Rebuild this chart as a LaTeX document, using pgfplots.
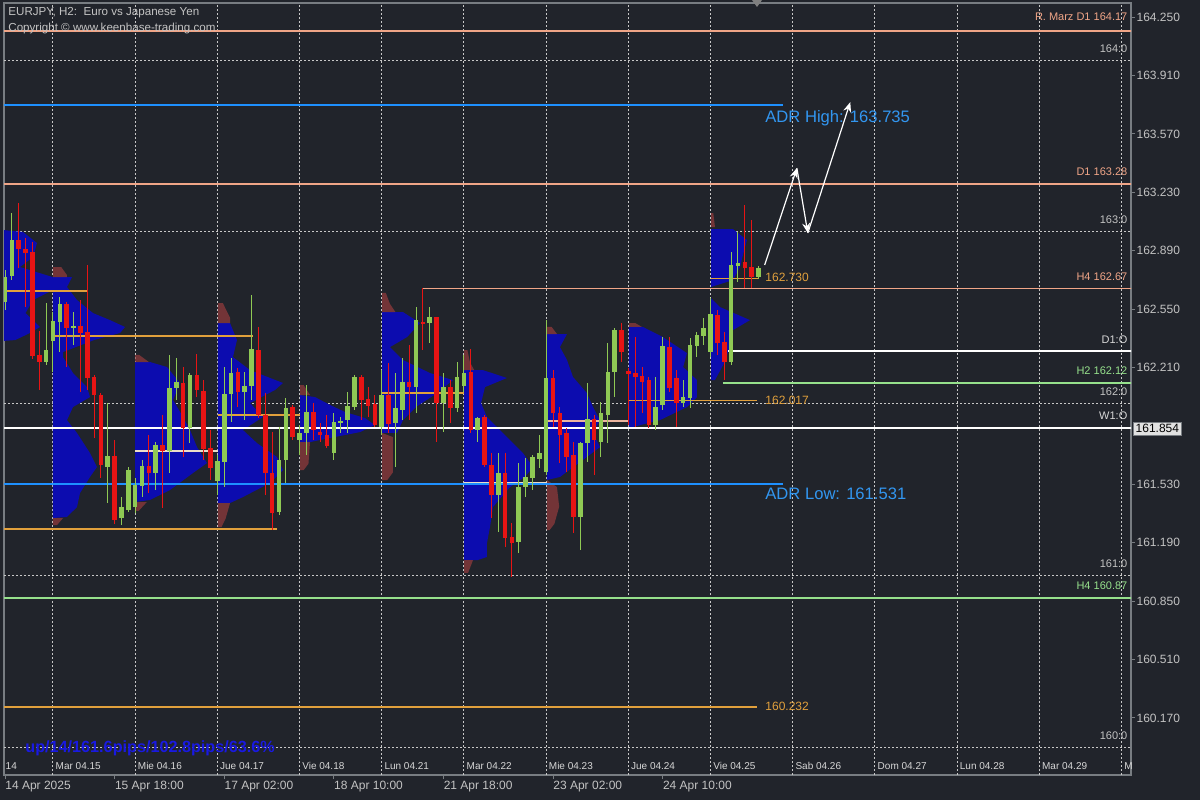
\documentclass[border=0pt]{standalone}
\usepackage{fontspec}
\setmainfont{Liberation Sans}
\usepackage{pgfplots}
\pgfplotsset{compat=1.18}
\usepackage{pgfplotstable}
\usetikzlibrary{arrows.meta}

\definecolor{bg}{RGB}{33,36,43}
\definecolor{gridc}{RGB}{200,200,200}
\definecolor{axisgrey}{RGB}{120,125,130}
\definecolor{ticktext}{RGB}{195,195,195}
\definecolor{salmon}{RGB}{240,165,135}
\definecolor{greenl}{RGB}{150,225,140}
\definecolor{adrblue}{RGB}{30,144,255}
\definecolor{adrtext}{RGB}{50,150,240}
\definecolor{pocor}{RGB}{225,160,60}
\definecolor{bullc}{RGB}{143,201,84}
\definecolor{bearc}{RGB}{232,20,20}
\definecolor{profblue}{RGB}{12,12,175}
\definecolor{profred}{RGB}{160,62,62}
\definecolor{daytext}{RGB}{215,215,215}
\definecolor{pocyel}{RGB}{235,220,200}
\definecolor{pocpink}{RGB}{235,180,160}
\definecolor{upblue}{RGB}{25,25,225}

\pgfplotstableread{
i o h l c
0 162.591 162.777 162.545 162.736
1 162.742 163.109 162.719 162.952
6 162.242 162.585 162.225 162.312
7 162.364 162.533 162.184 162.481
8 162.475 162.620 162.300 162.579
10 162.440 162.533 162.341 162.451
15 161.631 162.003 161.421 161.695
17 161.334 161.456 161.293 161.398
18 161.380 161.631 161.369 161.613
19 161.398 161.567 161.363 161.526
20 161.520 161.672 161.456 161.637
22 161.596 161.776 161.497 161.759
24 161.724 162.283 161.596 162.091
25 162.091 162.265 162.021 162.126
27 161.858 162.178 161.770 162.166
31 161.549 161.701 161.468 161.666
32 161.660 162.213 161.514 162.056
33 162.056 162.265 161.893 162.178
35 162.067 162.184 161.904 162.102
36 162.102 162.632 162.021 162.318
40 161.369 161.864 161.351 161.672
41 161.672 162.032 161.538 161.974
43 161.788 161.875 161.701 161.829
44 161.829 162.108 161.701 161.951
48 161.712 161.945 161.672 161.893
49 161.887 161.922 161.829 161.899
50 161.904 162.067 161.829 161.986
51 161.980 162.166 161.963 162.155
55 161.864 162.195 161.817 162.050
57 161.887 162.178 161.631 161.974
58 161.963 162.265 161.904 162.126
60 162.096 162.562 161.945 162.486
62 162.469 162.562 162.352 162.504
64 162.003 162.178 161.834 162.096
66 161.974 162.242 161.951 162.155
67 162.102 162.283 162.067 162.178
69 161.846 161.922 161.776 161.916
72 161.468 161.712 161.252 161.596
75 161.194 161.654 161.130 161.514
76 161.514 161.683 161.456 161.573
77 161.567 161.701 161.497 161.689
78 161.677 161.817 161.625 161.712
79 161.602 162.486 161.584 162.149
84 161.340 161.776 161.147 161.770
85 161.770 162.120 161.660 161.910
87 161.776 162.009 161.689 161.945
88 161.933 162.352 161.770 162.184
89 162.184 162.440 162.038 162.428
95 161.875 162.155 161.846 161.980
96 161.992 162.387 161.963 162.335
99 162.003 162.137 161.980 162.038
100 162.032 162.382 161.974 162.341
101 162.335 162.417 162.271 162.399
102 162.393 162.498 162.341 162.440
103 162.300 162.614 162.271 162.521
106 162.242 162.882 162.225 162.807
107 162.801 162.999 162.708 162.818
110 162.736 162.801 162.725 162.789
}\bulltab

\pgfplotstableread{
i o h l c
2 162.952 163.167 162.789 162.900
3 162.900 162.964 162.562 162.876
4 162.882 162.940 162.259 162.277
5 162.283 162.422 162.079 162.242
9 162.579 162.591 162.213 162.440
11 162.451 162.603 162.067 162.411
12 162.417 162.807 162.079 162.149
13 162.155 162.166 161.800 162.050
14 162.050 162.061 161.567 161.642
16 161.695 161.788 161.299 161.322
21 161.637 161.817 161.479 161.596
23 161.759 161.933 161.392 161.724
26 162.120 162.213 161.689 161.858
28 162.166 162.289 162.038 162.079
29 162.073 162.137 161.672 161.735
30 161.741 161.846 161.555 161.625
34 162.184 162.207 161.980 162.067
37 162.312 162.446 161.916 161.933
38 161.933 162.061 161.468 161.596
39 161.596 161.834 161.264 161.363
42 161.980 161.992 161.788 161.805
45 161.951 162.003 161.788 161.846
46 161.834 161.887 161.776 161.817
47 161.817 161.933 161.741 161.753
52 162.155 162.166 161.904 162.021
53 162.027 162.096 161.922 161.986
54 161.997 162.050 161.864 161.875
56 162.050 162.236 161.829 161.881
59 162.126 162.341 161.904 162.096
61 162.475 162.673 162.312 162.469
63 162.504 162.504 161.776 162.003
65 162.096 162.137 161.887 161.974
68 162.184 162.318 161.829 161.846
70 161.922 161.933 161.631 161.642
71 161.642 161.712 161.334 161.468
73 161.596 161.712 161.165 161.217
74 161.223 161.305 160.990 161.188
80 162.149 162.195 161.864 161.945
81 161.945 161.980 161.654 161.817
82 161.829 161.858 161.602 161.689
83 161.701 161.776 161.246 161.340
86 161.910 161.933 161.584 161.788
90 162.428 162.469 162.242 162.300
91 162.190 162.207 161.875 162.172
92 162.178 162.387 161.864 162.155
93 162.160 162.213 161.945 162.126
94 162.137 162.155 161.858 161.875
97 162.329 162.387 162.067 162.091
98 162.149 162.195 161.864 162.003
104 162.516 162.545 162.283 162.352
105 162.358 162.417 162.137 162.242
108 162.824 163.156 162.673 162.789
109 162.795 163.068 162.673 162.736
}\beartab

\pgfplotsset{
  candlewick/.style={draw=none, mark=none, forget plot,
    error bars/.cd, y dir=both, y explicit, error mark=none,
    error bar style={draw=#1, line width=0.5pt}},
  candlebody/.style={draw=none, mark=none, forget plot,
    error bars/.cd, y dir=both, y explicit, error mark=none,
    error bar style={draw=#1, line width=2.3pt, line cap=butt}},
  pb/.style={fill=profblue, draw=none},
  pr/.style={fill=profred, draw=none, fill opacity=0.65},
}
\tikzset{
  lvl/.style={anchor=base east, inner sep=0pt, yshift=4pt, font=\fontsize{5.5}{6}\selectfont},
  day/.style={anchor=west, inner sep=0.5pt, text=daytext, font=\fontsize{5}{6}\selectfont},
}

\begin{document}
\begin{tikzpicture}
\fill[bg] (0,0) rectangle (600pt,400pt);
\useasboundingbox (0,0) rectangle (600pt,400pt);
\begin{axis}[
  at={(2pt,12.5pt)}, anchor=south west, scale only axis,
  width=563.5pt, height=386pt,
  xmin=-0.146, xmax=164.38, ymin=159.838, ymax=164.332,
  axis line style={draw=axisgrey, line width=0.6pt},
  tick align=outside, major tick length=2pt,
  tick style={draw=axisgrey, line width=0.5pt},
  xtick pos=bottom, ytick pos=right, yticklabel pos=right,
  xtick={0,16,32,48,64,80,96},
  xticklabels={14 Apr 2025,15 Apr 18:00,17 Apr 02:00,18 Apr 10:00,21 Apr 18:00,23 Apr 02:00,24 Apr 10:00},
  xticklabel style={anchor=north west, inner sep=1pt, xshift=-1pt, text=ticktext, font=\fontsize{6}{7}\selectfont},
  ytick={160.170,160.510,160.850,161.190,161.530,162.210,162.550,162.890,163.230,163.570,163.910,164.250},
  scaled y ticks=false,
  yticklabel style={anchor=west, inner sep=0.6pt, text=ticktext, font=\fontsize{6}{7}\selectfont,
    /pgf/number format/fixed, /pgf/number format/fixed zerofill, /pgf/number format/precision=3,
    /pgf/number format/assume math mode=true},
  extra x ticks={7,19,31,43,55,67,79,91,103,115,127,139,151,163},
  extra x tick labels={},
  extra x tick style={grid=major, major tick length=0pt},
  extra y ticks={160,161,162,163,164},
  extra y tick labels={},
  extra y tick style={grid=major, major tick length=0pt},
  major grid style={draw=gridc, dash pattern=on 1pt off 1pt, line width=0.5pt},
]

% ---- volume profiles ----
% 14 Apr
\addplot[pb] coordinates {(-0.15,163.010) (2.63,162.999) (4.67,162.935) (4.09,162.853) (2.19,162.795) (7.0,162.736) (7.0,162.661) (4.09,162.603) (3.0,162.527) (5.11,162.446) (3.65,162.411) (1.5,162.370) (-0.15,162.365)};
% 15 Apr
\addplot[pb] coordinates {(7.0,162.736) (9.78,162.736) (9.05,162.679) (10.51,162.603) (12.85,162.527) (15.33,162.486) (17.52,162.446) (16.8,162.411) (13.0,162.370) (8.47,162.300) (8.47,162.271) (9.93,162.178) (11.97,162.096) (12.41,162.038) (9.93,161.980) (9.05,161.904) (10.51,161.829) (12.41,161.712) (13.43,161.631) (12.41,161.573) (10.95,161.479) (10.51,161.398) (9.05,161.340) (7.0,161.334)};
\addplot[pr] coordinates {(7.0,162.795) (8.2,162.795) (9.05,162.748) (9.05,162.736) (7.0,162.736)};
\addplot[pr] coordinates {(7.0,161.334) (8.47,161.334) (7.6,161.293) (7.0,161.293)};
% 16 Apr
\addplot[pb] coordinates {(18.98,162.242) (21.17,162.242) (23.65,162.213) (25.55,162.120) (24.53,162.021) (25.99,161.922) (27.01,161.846) (28.03,161.747) (29.49,161.654) (27.45,161.596) (24.09,161.497) (21.17,161.439) (18.98,161.427)};
\addplot[pr] coordinates {(18.98,162.283) (19.6,162.283) (21.0,162.242) (18.98,162.242)};
\addplot[pr] coordinates {(18.98,161.427) (20.7,161.427) (19.5,161.375) (18.98,161.375)};
% 17 Apr
\addplot[pb] coordinates {(31.09,162.469) (32.85,162.469) (33.87,162.370) (33.28,162.271) (35.77,162.195) (40.58,162.120) (39.42,162.079) (35.77,162.003) (37.66,161.922) (34.74,161.846) (36.79,161.770) (39.71,161.689) (40.58,161.613) (38.69,161.538) (34.74,161.456) (32.85,161.421) (31.09,161.421)};
\addplot[pr] coordinates {(31.09,162.585) (31.8,162.585) (32.85,162.50) (32.85,162.469) (31.09,162.469)};
\addplot[pr] coordinates {(31.09,161.421) (32.85,161.421) (32.2,161.33) (31.6,161.281) (31.09,161.281)};
% 18 Apr
\addplot[pb] coordinates {(43.07,162.050) (45.26,162.038) (47.45,161.992) (49.64,161.951) (52.55,161.916) (54.01,161.875) (51.82,161.834) (47.45,161.800) (44.53,161.776) (43.07,161.776)};
\addplot[pr] coordinates {(43.07,162.108) (43.6,162.108) (44.53,162.050) (43.07,162.050)};
\addplot[pr] coordinates {(43.07,161.776) (44.53,161.776) (44.3,161.65) (43.6,161.613) (43.07,161.613)};
% 21 Apr
\addplot[pb] coordinates {(55.04,162.533) (58.10,162.533) (60.58,162.469) (58.69,162.387) (56.20,162.329) (58.10,162.254) (62.04,162.178) (65.40,162.137) (63.07,162.061) (60.0,161.980) (58.10,161.904) (57.23,161.829) (55.04,161.829)};
\addplot[pr] coordinates {(55.04,162.644) (55.6,162.644) (56.2,162.58) (57.0,162.533) (55.04,162.533)};
\addplot[pr] coordinates {(55.04,161.829) (56.64,161.805) (56.64,161.6) (55.8,161.555) (55.04,161.555)};
% 22 Apr
\addplot[pb] coordinates {(67.01,162.195) (69.78,162.195) (73.28,162.149) (70.07,162.096) (69.5,162.003) (70.36,161.922) (71.82,161.864) (73.72,161.788) (75.62,161.712) (77.08,161.631) (75.91,161.573) (73.72,161.514) (71.24,161.398) (70.8,161.281) (70.36,161.188) (70.36,161.107) (69.0,161.089) (67.01,161.089)};
\addplot[pr] coordinates {(67.01,162.312) (67.5,162.312) (67.88,162.24) (68.5,162.195) (67.01,162.195)};
\addplot[pr] coordinates {(67.01,161.089) (68.32,161.089) (67.6,161.014) (67.01,161.014)};
% 23 Apr
\addplot[pb] coordinates {(79.12,162.405) (82.04,162.405) (81.02,162.329) (82.04,162.254) (82.92,162.155) (84.96,162.061) (85.84,161.980) (86.86,161.904) (85.84,161.829) (86.86,161.747) (84.38,161.672) (81.02,161.573) (79.12,161.555)};
\addplot[pr] coordinates {(79.12,162.446) (79.8,162.446) (80.58,162.405) (79.12,162.405)};
\addplot[pr] coordinates {(79.12,161.555) (80.58,161.514) (80.9,161.4) (80.2,161.3) (79.5,161.264) (79.12,161.264)};
% 24 Apr
\addplot[pb] coordinates {(91.09,162.446) (93.14,162.446) (96.06,162.387) (99.56,162.294) (99.0,162.213) (101.02,162.137) (101.02,162.038) (99.56,161.980) (95.62,161.904) (91.68,161.864) (91.09,161.864)};
\addplot[pr] coordinates {(91.09,162.469) (92.0,162.469) (92.99,162.446) (91.09,162.446)};
% 25 Apr
\addplot[pb] coordinates {(103.07,163.016) (106.28,163.016) (108.32,162.952) (107.8,162.876) (107.30,162.795) (106.28,162.719) (103.07,162.679)};
\addplot[pb] coordinates {(103.07,162.614) (104.38,162.562) (108.76,162.486) (106.28,162.428) (105.8,162.329) (105.0,162.236) (103.65,162.137) (103.07,162.137)};
\addplot[pr] coordinates {(103.07,163.109) (103.4,163.109) (103.65,163.027) (103.07,163.027)};

% ---- POC lines ----
\addplot[pocor, line width=0.7pt] coordinates {(-1,162.655) (11.97,162.655)};
\addplot[pocor, line width=0.7pt] coordinates {(7,162.393) (36.2,162.393)};
\addplot[pocor, line width=0.8pt] coordinates {(-1,161.270) (39.7,161.270)};
\addplot[pocyel, line width=0.6pt] coordinates {(18.98,161.724) (31.09,161.724)};
\addplot[pocor, line width=0.7pt] coordinates {(31.09,161.933) (43.07,161.933)};
\addplot[pocor, line width=0.7pt] coordinates {(55.04,162.061) (67.01,162.061)};
\addplot[pocyel, line width=0.6pt] coordinates {(67.01,161.538) (79.12,161.538)};
\addplot[pocpink, line width=0.6pt] coordinates {(79.12,161.899) (91.09,161.899)};
\addplot[pocor, line width=0.7pt] coordinates {(91.09,162.017) (109.8,162.017)};
\addplot[pocor, line width=0.7pt] coordinates {(103.07,162.730) (109.9,162.730)};
\addplot[pocor, line width=0.9pt] coordinates {(-1,160.232) (109.8,160.232)};

% ---- level lines ----
\addplot[salmon, line width=1pt] coordinates {(-1,164.17) (170,164.17)};
\addplot[salmon, line width=1pt] coordinates {(-1,163.28) (170,163.28)};
\addplot[salmon, line width=0.8pt] coordinates {(60.9,162.67) (170,162.67)};
\addplot[adrblue, line width=1pt] coordinates {(-1,163.738) (113.6,163.738)};
\addplot[adrblue, line width=0.8pt] coordinates {(-1,161.531) (113.6,161.531)};
\addplot[white, line width=1pt] coordinates {(105.6,162.306) (170,162.306)};
\addplot[greenl, line width=0.8pt] coordinates {(104.8,162.12) (170,162.12)};
\addplot[white, line width=1pt] coordinates {(-1,161.858) (170,161.858)};
\addplot[greenl, line width=0.8pt] coordinates {(-1,160.87) (170,160.87)};

% ---- candles ----
\addplot[candlewick=bullc] table[x=i, y expr={(\thisrow{h}+\thisrow{l})/2}, y error expr={(\thisrow{h}-\thisrow{l})/2}] {\bulltab};
\addplot[candlewick=bearc] table[x=i, y expr={(\thisrow{h}+\thisrow{l})/2}, y error expr={(\thisrow{h}-\thisrow{l})/2}] {\beartab};
\addplot[candlebody=bullc] table[x=i, y expr={(\thisrow{o}+\thisrow{c})/2}, y error expr={max(abs(\thisrow{c}-\thisrow{o})/2,0.003)}] {\bulltab};
\addplot[candlebody=bearc] table[x=i, y expr={(\thisrow{o}+\thisrow{c})/2}, y error expr={max(abs(\thisrow{c}-\thisrow{o})/2,0.003)}] {\beartab};

% ---- projection arrows ----
\addplot[white, line width=0.6pt, -{Stealth[length=5pt,width=4pt]}] coordinates {(110.9,162.807) (115.6,163.371)};
\addplot[white, line width=0.6pt, -{Stealth[length=5pt,width=4pt]}] coordinates {(115.6,163.371) (117.2,162.993)};
\addplot[white, line width=0.6pt, -{Stealth[length=5pt,width=4pt]}] coordinates {(117.2,162.993) (123.4,163.755)};

% ---- texts ----
\node[anchor=base west, inner sep=0pt, text=adrtext, font=\fontsize{8.3}{9}\selectfont] at (axis cs:110.95,163.639) {ADR High: 163.735};
\node[anchor=base west, inner sep=0pt, text=adrtext, font=\fontsize{8.3}{9}\selectfont] at (axis cs:110.95,161.444) {ADR Low: 161.531};
\node[anchor=base west, inner sep=0pt, text=pocor, font=\fontsize{6}{7}\selectfont] at (axis cs:110.95,162.708) {162.730};
\node[anchor=base west, inner sep=0pt, text=pocor, font=\fontsize{6}{7}\selectfont] at (axis cs:110.95,161.997) {162.017};
\node[anchor=base west, inner sep=0pt, text=pocor, font=\fontsize{6}{7}\selectfont] at (axis cs:110.95,160.216) {160.232};

\node[lvl, text=salmon, yshift=1pt] at (axis cs:163.9,164.17) {R. Marz D1 164.17};
\node[lvl, text=ticktext] at (axis cs:163.9,164) {164:0};
\node[lvl, text=salmon] at (axis cs:163.9,163.28) {D1 163.28};
\node[lvl, text=ticktext] at (axis cs:163.9,163) {163:0};
\node[lvl, text=salmon] at (axis cs:163.9,162.67) {H4 162.67};
\node[lvl, text=daytext] at (axis cs:163.9,162.306) {D1:O};
\node[lvl, text=greenl] at (axis cs:163.9,162.12) {H2 162.12};
\node[lvl, text=ticktext] at (axis cs:163.9,162) {162:0};
\node[lvl, text=daytext] at (axis cs:163.9,161.858) {W1:O};
\node[lvl, text=ticktext] at (axis cs:163.9,161) {161:0};
\node[lvl, text=greenl] at (axis cs:163.9,160.87) {H4 160.87};
\node[lvl, text=ticktext] at (axis cs:163.9,160) {160:0};

\node[day] at (axis cs:-0.1,159.89) {14};
\node[day] at (axis cs:7.2,159.89) {Mar 04.15};
\node[day] at (axis cs:19.2,159.89) {Mie 04.16};
\node[day] at (axis cs:31.2,159.89) {Jue 04.17};
\node[day] at (axis cs:43.2,159.89) {Vie 04.18};
\node[day] at (axis cs:55.2,159.89) {Lun 04.21};
\node[day] at (axis cs:67.2,159.89) {Mar 04.22};
\node[day] at (axis cs:79.2,159.89) {Mie 04.23};
\node[day] at (axis cs:91.2,159.89) {Jue 04.24};
\node[day] at (axis cs:103.2,159.89) {Vie 04.25};
\node[day] at (axis cs:115.2,159.89) {Sab 04.26};
\node[day] at (axis cs:127.2,159.89) {Dom 04.27};
\node[day] at (axis cs:139.2,159.89) {Lun 04.28};
\node[day] at (axis cs:151.2,159.89) {Mar 04.29};
\node[day] at (axis cs:163.2,159.89) {M};

\coordinate (pbox) at (axis cs:164.38,161.854);
\end{axis}
\node[anchor=west, xshift=1pt, fill={rgb,255:red,225;green,225;blue,225}, draw=axisgrey, line width=0.3pt, text=black, inner sep=1.2pt, font=\fontsize{6}{7}\selectfont] at (pbox) {161.854};
\node[anchor=base west, inner sep=0pt, text=ticktext, font=\fontsize{5.8}{7}\selectfont] at (4pt,392pt) {EURJPY, H2:\ \ Euro vs Japanese Yen};
\node[anchor=base west, inner sep=0pt, text=ticktext, font=\fontsize{5.8}{7}\selectfont] at (4pt,384pt) {Copyright © www.keenbase-trading.com};
\node[anchor=base west, inner sep=0pt, text=upblue, font=\bfseries\fontsize{8.1}{9}\selectfont] at (12.5pt,24pt) {up/14/161.6pips/102.8pips/63.6\%};
\fill[gray] (376pt,400pt) -- (381pt,400pt) -- (378.5pt,396.5pt) -- cycle;
\end{tikzpicture}
\end{document}
